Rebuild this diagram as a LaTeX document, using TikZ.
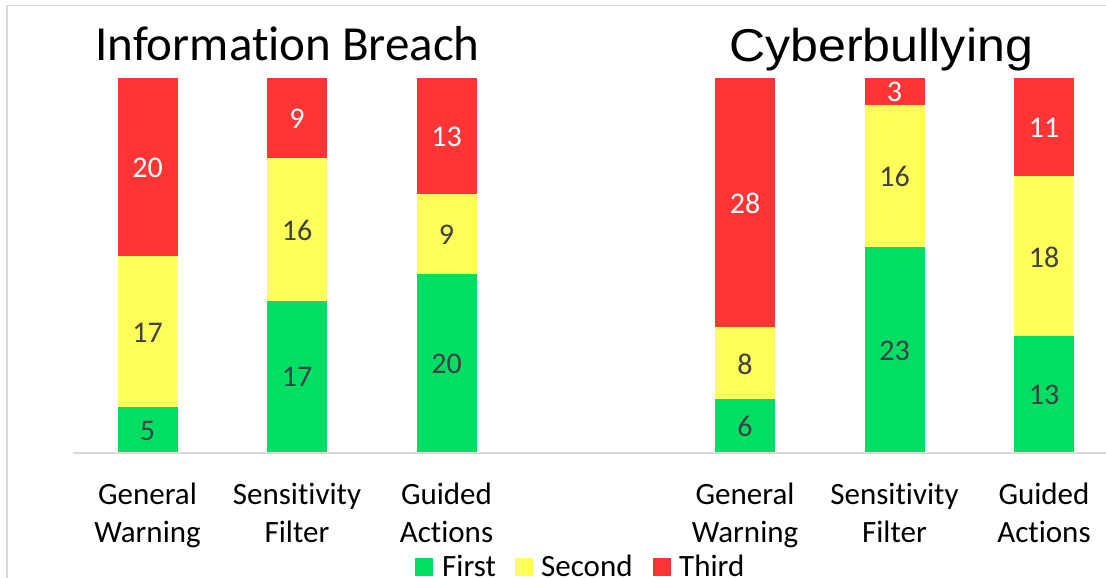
\documentclass[tikz,border=0pt]{standalone}
\usepackage{fontspec}
\setmainfont{Carlito}[Ligatures=NoCommon]
\newfontfamily\arialfont{Liberation Sans}
\definecolor{rankfirst}{HTML}{00DF64}
\definecolor{ranksecond}{HTML}{FFFF5A}
\definecolor{rankthird}{HTML}{FF3535}
\definecolor{framegray}{HTML}{D9D9D9}
\definecolor{valdark}{HTML}{404045}
\begin{document}
\begin{tikzpicture}[x=1pt,y=-1pt,
  vallbl/.style={inner sep=0pt,font=\fontsize{30}{36}\selectfont},
  catlbl/.style={inner sep=0pt,anchor=base,font=\fontsize{31}{38}\selectfont,text=black},
  leglbl/.style={inner sep=0pt,anchor=base west,font=\fontsize{31}{38}\selectfont,text=black},
  legkey/.style={draw=none,minimum width=18pt,minimum height=18pt,inner sep=0pt,anchor=north west}]
\useasboundingbox (0,0) rectangle (1106,578);
\fill[white] (0,0) rectangle (1106,578);

% chart frame and category axis
\draw[framegray,line width=1.5pt] (6.8,578) -- (6.8,5.6) -- (1106,5.6);
\draw[framegray,line width=2pt] (73,453) -- (1106,453);

% titles
\node[inner sep=0pt,anchor=base west,font=\fontsize{49}{58}\selectfont] (titleA) at (95,60.7) {Information Breach};
\node[inner sep=0pt,anchor=base west,xscale=1.09,font=\arialfont\fontsize{46}{54}\selectfont] (titleB) at (729,61.7) {Cyberbullying};

% stacked bars: name / centre x / first / second / third
\def\u{8.905}
\foreach \nm/\cx/\a/\b/\c in {igw/147.5/5/17/20, isf/297/17/16/9, iga/446.5/20/9/13,
                               cgw/745/6/8/28, csf/894.5/23/16/3, cga/1044/13/18/11}{
  \pgfmathsetmacro{\ya}{452-\a*\u}
  \pgfmathsetmacro{\yb}{\ya-\b*\u}
  \pgfmathsetmacro{\yc}{\yb-\c*\u}
  \pgfmathsetmacro{\ma}{(452+\ya)/2}
  \pgfmathsetmacro{\mb}{(\ya+\yb)/2}
  \pgfmathsetmacro{\mc}{(\yb+\yc)/2}
  \fill[rankfirst]  (\cx-30,452) rectangle (\cx+30,\ya);
  \fill[ranksecond] (\cx-30,\ya) rectangle (\cx+30,\yb);
  \fill[rankthird]  (\cx-30,\yb) rectangle (\cx+30,\yc);
  \node[vallbl,text=valdark] (\nm-1) at (\cx,\ma+1) {\a};
  \node[vallbl,text=valdark] (\nm-2) at (\cx,\mb+1) {\b};
  \node[vallbl,text=white]   (\nm-3) at (\cx,\mc+1) {\c};
}

% category labels
\foreach \nm/\cx/\la/\lb in {igw/147.5/General/Warning, isf/297/Sensitivity/Filter, iga/446.5/Guided/Actions,
                             cgw/745/General/Warning, csf/894.5/Sensitivity/Filter, cga/1044/Guided/Actions}{
  \node[catlbl] (\nm-cat1) at (\cx,504) {\la};
  \node[catlbl] (\nm-cat2) at (\cx,542) {\lb};
}

% legend
\node[legkey,fill=rankfirst]  (keyA) at (415,558) {};
\node[leglbl] (legA) at (442,576.5) {First};
\node[legkey,fill=ranksecond] (keyB) at (515,558) {};
\node[leglbl] (legB) at (541,576.5) {Second};
\node[legkey,fill=rankthird]  (keyC) at (653,558) {};
\node[leglbl] (legC) at (679,576.5) {Third};
\end{tikzpicture}
\end{document}
